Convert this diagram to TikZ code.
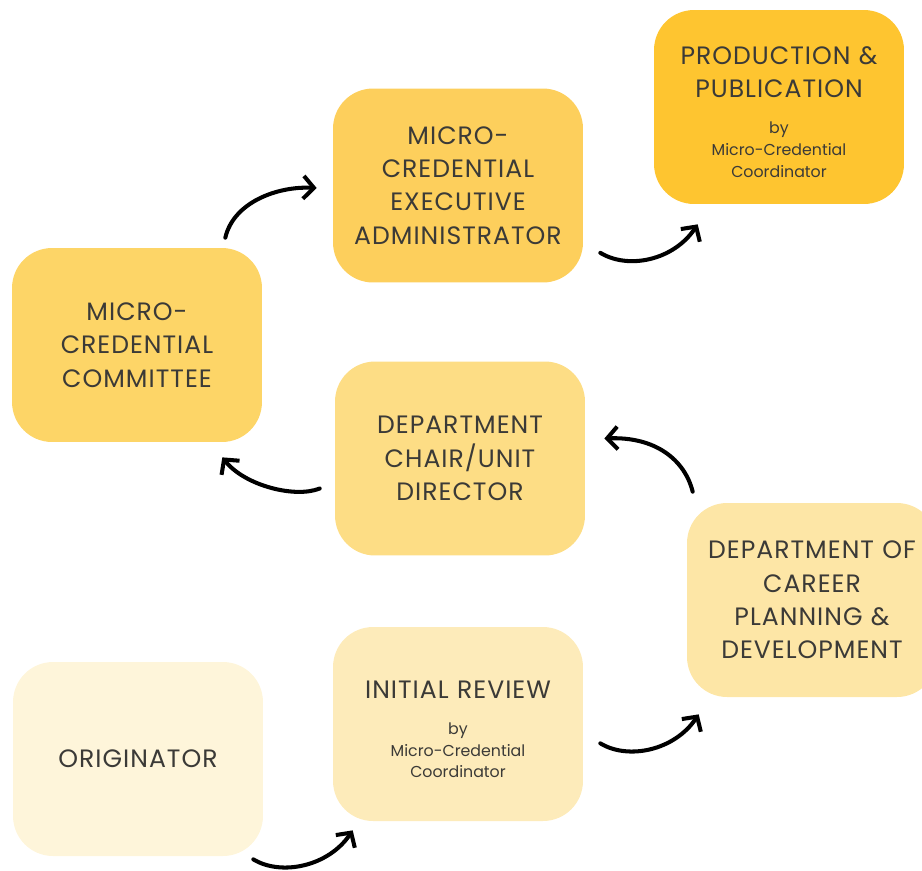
\documentclass[tikz,border=0pt]{standalone}
\usepackage{fontspec}
\setmainfont{Poppins}
\newfontfamily\titlefont{Poppins}[LetterSpace=4]
\usepackage{tikz}
\usetikzlibrary{shapes,calc,positioning,arrows.meta}
\definecolor{txt}{HTML}{3B3A37}
\definecolor{s1}{HTML}{FEC530}
\definecolor{s2}{HTML}{FDCF5C}
\definecolor{s3}{HTML}{FDD567}
\definecolor{s4}{HTML}{FDDD85}
\definecolor{s5}{HTML}{FDE6A6}
\definecolor{s6}{HTML}{FDEBBA}
\definecolor{s7}{HTML}{FEF5DA}
\newcommand{\bymcc}{\par\vspace{8pt}\fontsize{9}{12.5}\normalfont\selectfont by\\Micro-Credential\\Coordinator\par}

\begin{document}
\begin{tikzpicture}[x=0.02cm, y=-0.02cm]
\tikzstyle{sn}=[draw=none,rounded corners=0.8cm,minimum width=5cm,minimum height=3.88cm,text width=4.7cm,text centered,text=txt,font=\titlefont\fontsize{14.3}{19}\selectfont]
\tikzstyle{ar}=[line width=2.3pt,line cap=round,-{Straight Barb[length=6pt,width=13pt]}]
\useasboundingbox (0,0) rectangle (922,870);
\node[sn,fill=s1] (a) at (779,107) {\rule{0pt}{16pt}PRODUCTION \&\\ PUBLICATION\bymcc};
\node[sn,fill=s2] (b) at (458,185.5) {MICRO-\\ CREDENTIAL\\ EXECUTIVE\\ ADMINISTRATOR};
\node[sn,fill=s3] (c) at (137,345) {MICRO-\\ CREDENTIAL\\ COMMITTEE};
\node[sn,fill=s4] (d) at (460,458.5) {DEPARTMENT\\ CHAIR/UNIT\\ DIRECTOR};
\node[sn,fill=s5] (e) at (812,600) {DEPARTMENT OF\\ CAREER\\ PLANNING \&\\ DEVELOPMENT};
\node[sn,fill=s6] (f) at (458,724) {\rule{0pt}{16pt}INITIAL REVIEW\bymcc};
\node[sn,fill=s7] (g) at (138,759) {ORIGINATOR};
% curved arrows between the steps
\draw[ar] ($(g.south east)+(-10,3)$) .. controls +(28,17) and +(-24,36) .. ($(f.south west)+(20,9)$);
\draw[ar] ($(f.south east)+(17,-78)$) .. controls +(28,17) and +(-24,36) .. ($(e.south west)+(12,17)$);
\draw[ar] ($(e.north west)+(6,-11)$) .. controls +(-8,-32) and +(51,-2) .. ($(d.east)+(19,-20)$);
\draw[ar] ($(d.west)+(-15,30)$) .. controls +(-25,10) and +(22,28) .. ($(c.south east)+(-40,15)$);
\draw[ar] ($(c.north east)+(-37,-10)$) .. controls +(8,-35) and +(-40,-2) .. ($(b.west)+(-16,2.5)$);
\draw[ar] ($(b.south east)+(17,-30)$) .. controls +(28,17) and +(-24,36) .. ($(a.south west)+(44,20)$);
\end{tikzpicture}
\end{document}
